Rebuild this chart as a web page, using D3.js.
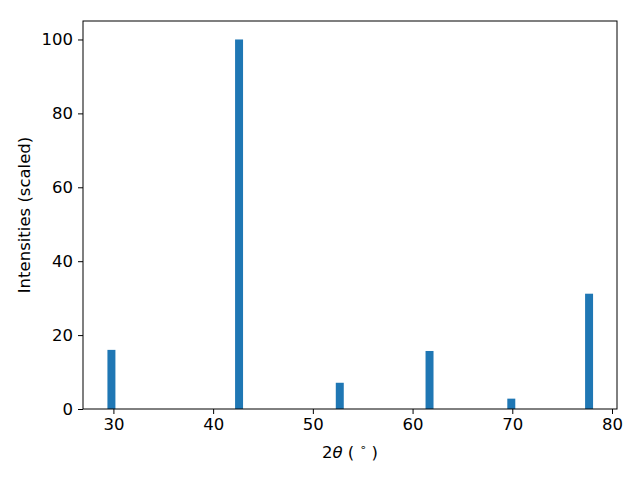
<!DOCTYPE html>
<html>
<head>
  <meta charset="utf-8">
  <title>XRD peaks</title>
  <script src="https://d3js.org/d3.v7.min.js"></script>
</head>
<style>
  body { margin: 0; background: white; }
  svg text { font-family: "DejaVu Sans", sans-serif; font-size: 16.5px; fill: black; }
</style>
<body>
</body>
<script>

  // peak positions (2theta, degrees) and scaled intensities
  var positions = [29.8, 42.6, 52.7, 61.7, 69.9, 77.7];
  var intensities = [16.0, 100, 7.1, 15.7, 2.8, 31.2];
  var xTicks = [30, 40, 50, 60, 70, 80];
  var yTicks = [0, 20, 40, 60, 80, 100];
  var barWidth = 0.8;

  var margin = {top: 21, right: 23, bottom: 71, left: 83}
    , width = 640 - margin.left - margin.right
    , height = 480 - margin.top - margin.bottom;

  var xScale = d3.scaleLinear()
    .domain([26.95, 80.5])
    .range([0, width]);

  var yScale = d3.scaleLinear()
    .domain([0, 105])
    .range([height, 0]);

  var data = positions.map(function(p, i) { return {pos: p, val: intensities[i]}; });

  var svg = d3.select('body').append('svg')
    .attr('width', 640)
    .attr('height', 480)
    .append('g')
      .attr('transform', 'translate(' + margin.left + ',' + margin.top + ')');

  svg.selectAll('.bar')
    .data(data)
    .enter()
      .append('rect')
      .attr('class', 'bar')
      .attr('x', function(d) { return xScale(d.pos - barWidth / 2); })
      .attr('width', function(d) { return xScale(d.pos + barWidth / 2) - xScale(d.pos - barWidth / 2); })
      .attr('y', function(d) { return yScale(d.val); })
      .attr('height', function(d) { return yScale(0) - yScale(d.val); })
      .style('fill', '#1f77b4');

  // x axis
  var xAxis = svg.append('g')
    .attr('transform', 'translate(0,' + height + ')')
    .call(d3.axisBottom(xScale).tickValues(xTicks).tickSize(5).tickPadding(4));

  // y axis
  var yAxis = svg.append('g')
    .call(d3.axisLeft(yScale).tickValues(yTicks).tickSize(5).tickPadding(5));

  [xAxis, yAxis].forEach(function(a) {
    a.select('.domain').remove();
    a.selectAll('text').style('font-size', '16.5px').style('font-family', '"DejaVu Sans", sans-serif');
    a.selectAll('line').attr('stroke', 'black');
  });

  // frame
  svg.append('rect')
    .attr('width', width)
    .attr('height', height)
    .attr('fill', 'none')
    .attr('stroke', 'black')
    .attr('stroke-width', 1);

  // labels
  var xl = svg.append('text')
    .attr('x', width / 2)
    .attr('y', height + 49)
    .style('text-anchor', 'middle');
  xl.append('tspan').text('2');
  xl.append('tspan').style('font-style', 'italic').text('θ');
  xl.append('tspan').text(' ( ');
  xl.append('tspan').attr('dy', -7).style('font-size', '11px').text('∘');
  xl.append('tspan').attr('dy', 7).text(' )');

  svg.append('text')
    .attr('transform', 'rotate(-90)')
    .attr('x', -height / 2)
    .attr('y', -53)
    .style('text-anchor', 'middle')
    .text('Intensities (scaled)');

</script>
</html>
